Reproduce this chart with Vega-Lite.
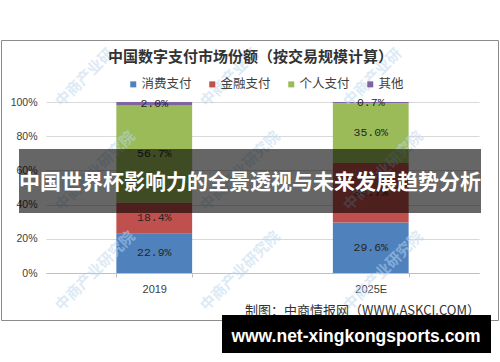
{
  "$schema": "https://vega.github.io/schema/vega-lite/v6.json",
  "width": 433,
  "height": 171,
  "autosize": {"type": "none"},
  "padding": {"left": 46, "top": 102, "right": 21, "bottom": 89},
  "background": "#ffffff",
  "config": {"view": {"stroke": null}, "font": "Liberation Sans"},
  "title": {
    "text": "中国数字支付市场份额（按交易规模计算）",
    "anchor": "middle",
    "dx": -12,
    "offset": -25,
    "font": "Noto Sans CJK SC",
    "fontSize": 15,
    "fontWeight": "bold",
    "color": "#333333"
  },
  "layer": [
    {
      "data": {
        "values": [
          {"year": "2019", "cat": "消费支付", "k": 1, "value": 0.229},
          {"year": "2019", "cat": "金融支付", "k": 2, "value": 0.184},
          {"year": "2019", "cat": "个人支付", "k": 3, "value": 0.567},
          {"year": "2019", "cat": "其他", "k": 4, "value": 0.02},
          {"year": "2025E", "cat": "消费支付", "k": 1, "value": 0.296},
          {"year": "2025E", "cat": "金融支付", "k": 2, "value": 0.347},
          {"year": "2025E", "cat": "个人支付", "k": 3, "value": 0.35},
          {"year": "2025E", "cat": "其他", "k": 4, "value": 0.007}
        ]
      },
      "transform": [
        {"stack": "value", "groupby": ["year"], "sort": [{"field": "k", "order": "ascending"}], "as": ["v0", "v1"]},
        {"calculate": "(datum.v0 + datum.v1) / 2", "as": "mid"}
      ],
      "encoding": {
        "x": {
          "field": "year",
          "type": "nominal",
          "scale": {"paddingInner": 0.65, "paddingOuter": 0.325},
          "axis": {
            "title": null,
            "labelAngle": 0,
            "labelFontSize": 11,
            "labelColor": "#404040",
            "domainColor": "#BFBFBF",
            "tickColor": "#BFBFBF",
            "tickSize": 4,
            "tickBand": "extent",
            "labelPadding": 6
          }
        }
      },
      "layer": [
        {
          "mark": {"type": "bar"},
          "encoding": {
            "y": {
              "field": "v0",
              "type": "quantitative",
              "scale": {"domain": [0, 1], "nice": false},
              "axis": {
                "title": null,
                "format": "%",
                "values": [0, 0.2, 0.4, 0.6, 0.8, 1],
                "labelFontSize": 10.5,
                "labelColor": "#404040",
                "labelOverlap": false,
                "domain": false,
                "ticks": false,
                "labelPadding": 9,
                "gridColor": "#D9D9D9"
              }
            },
            "y2": {"field": "v1"},
            "color": {
              "field": "cat",
              "type": "nominal",
              "scale": {
                "domain": ["消费支付", "金融支付", "个人支付", "其他"],
                "range": ["#4F81BD", "#C0504D", "#9BBB59", "#8064A2"]
              },
              "legend": {
                "orient": "none",
                "legendX": 81,
                "legendY": -24,
                "direction": "horizontal",
                "title": null,
                "symbolType": "square",
                "symbolSize": 36,
                "symbolStrokeWidth": 0,
                "labelFont": "Noto Sans CJK SC",
                "labelFontSize": 12.5,
                "labelColor": "#404040",
                "labelOffset": 2,
                "columnPadding": 14,
                "padding": 0
              }
            }
          }
        },
        {
          "mark": {"type": "text", "font": "Liberation Mono", "fontSize": 11.5, "color": "#262626", "baseline": "middle"},
          "encoding": {
            "y": {
              "field": "mid",
              "type": "quantitative",
              "scale": {"domain": [0, 1], "nice": false},
              "axis": {
                "title": null,
                "format": "%",
                "values": [0, 0.2, 0.4, 0.6, 0.8, 1],
                "labelFontSize": 10.5,
                "labelColor": "#404040",
                "labelOverlap": false,
                "domain": false,
                "ticks": false,
                "labelPadding": 9,
                "gridColor": "#D9D9D9"
              }
            },
            "text": {"field": "value", "type": "quantitative", "format": ".1%"}
          }
        }
      ]
    },
    {
      "data": {"values": [{"t": "中商产业研"}]},
      "mark": {"type": "text", "angle": -45, "align": "left", "baseline": "middle", "font": "Noto Sans CJK SC", "fontWeight": "bold", "fontSize": 15, "color": "#BDD7EE", "opacity": 0.5},
      "encoding": {"text": {"field": "t"}, "x": {"value": 12}, "y": {"value": 2}}
    },
    {
      "data": {"values": [{"t": "中商产业研"}]},
      "mark": {"type": "text", "angle": -45, "align": "left", "baseline": "middle", "font": "Noto Sans CJK SC", "fontWeight": "bold", "fontSize": 15, "color": "#BDD7EE", "opacity": 0.5},
      "encoding": {"text": {"field": "t"}, "x": {"value": 157}, "y": {"value": 2}}
    },
    {
      "data": {"values": [{"t": "中商产业研"}]},
      "mark": {"type": "text", "angle": -45, "align": "left", "baseline": "middle", "font": "Noto Sans CJK SC", "fontWeight": "bold", "fontSize": 15, "color": "#BDD7EE", "opacity": 0.5},
      "encoding": {"text": {"field": "t"}, "x": {"value": 300}, "y": {"value": 2}}
    },
    {
      "data": {"values": [{"t": "中商产业研究院"}]},
      "mark": {"type": "text", "angle": -45, "align": "left", "baseline": "middle", "font": "Noto Sans CJK SC", "fontWeight": "bold", "fontSize": 15, "color": "#BDD7EE", "opacity": 0.5},
      "encoding": {"text": {"field": "t"}, "x": {"value": 12}, "y": {"value": 106}}
    },
    {
      "data": {"values": [{"t": "中商产业研究院"}]},
      "mark": {"type": "text", "angle": -45, "align": "left", "baseline": "middle", "font": "Noto Sans CJK SC", "fontWeight": "bold", "fontSize": 15, "color": "#BDD7EE", "opacity": 0.5},
      "encoding": {"text": {"field": "t"}, "x": {"value": 157}, "y": {"value": 106}}
    },
    {
      "data": {"values": [{"t": "中商产业研究院"}]},
      "mark": {"type": "text", "angle": -45, "align": "left", "baseline": "middle", "font": "Noto Sans CJK SC", "fontWeight": "bold", "fontSize": 15, "color": "#BDD7EE", "opacity": 0.5},
      "encoding": {"text": {"field": "t"}, "x": {"value": 300}, "y": {"value": 106}}
    },
    {
      "data": {"values": [{"t": "中商产业研究院"}]},
      "mark": {"type": "text", "angle": -45, "align": "left", "baseline": "middle", "font": "Noto Sans CJK SC", "fontWeight": "bold", "fontSize": 15, "color": "#BDD7EE", "opacity": 0.5},
      "encoding": {"text": {"field": "t"}, "x": {"value": 12}, "y": {"value": 206}}
    },
    {
      "data": {"values": [{"t": "中商产业研究院"}]},
      "mark": {"type": "text", "angle": -45, "align": "left", "baseline": "middle", "font": "Noto Sans CJK SC", "fontWeight": "bold", "fontSize": 15, "color": "#BDD7EE", "opacity": 0.5},
      "encoding": {"text": {"field": "t"}, "x": {"value": 157}, "y": {"value": 206}}
    },
    {
      "data": {"values": [{"t": "中商产业研究院"}]},
      "mark": {"type": "text", "angle": -45, "align": "left", "baseline": "middle", "font": "Noto Sans CJK SC", "fontWeight": "bold", "fontSize": 15, "color": "#BDD7EE", "opacity": 0.5},
      "encoding": {"text": {"field": "t"}, "x": {"value": 300}, "y": {"value": 206}}
    },
    {
      "data": {"values": [{}]},
      "mark": {"type": "rect", "fill": null, "stroke": "#8C8C8C", "strokeWidth": 1},
      "encoding": {"x": {"value": -44.5}, "x2": {"value": 452.5}, "y": {"value": -61.5}, "y2": {"value": 218.5}}
    },
    {
      "data": {"values": [{"t": "制图：中商情报网（WWW.ASKCI.COM）"}]},
      "mark": {"type": "text", "align": "right", "baseline": "middle", "font": "Noto Sans CJK SC", "fontSize": 13, "color": "#333333"},
      "encoding": {"text": {"field": "t"}, "x": {"value": 434}, "y": {"value": 209}}
    },
    {
      "data": {"values": [{}]},
      "mark": {"type": "rect", "fill": "#000000", "opacity": 0.6},
      "encoding": {"x": {"value": -27}, "x2": {"value": 435}, "y": {"value": 47}, "y2": {"value": 111}}
    },
    {
      "data": {"values": [{"t": "中国世界杯影响力的全景透视与未来发展趋势分析"}]},
      "mark": {"type": "text", "align": "center", "baseline": "middle", "font": "Noto Sans CJK SC", "fontWeight": "bold", "fontSize": 21, "color": "#ffffff"},
      "encoding": {"text": {"field": "t"}, "x": {"value": 204}, "y": {"value": 81}}
    },
    {
      "data": {"values": [{}]},
      "mark": {"type": "rect", "fill": "#000000"},
      "encoding": {"x": {"value": 176}, "x2": {"value": 445}, "y": {"value": 213}, "y2": {"value": 251}}
    },
    {
      "data": {"values": [{"t": "www.net-xingkongsports.com"}]},
      "mark": {"type": "text", "align": "center", "baseline": "middle", "font": "Liberation Sans", "fontWeight": "bold", "fontSize": 17.5, "color": "#ffffff"},
      "encoding": {"text": {"field": "t"}, "x": {"value": 310}, "y": {"value": 235}}
    }
  ]
}
